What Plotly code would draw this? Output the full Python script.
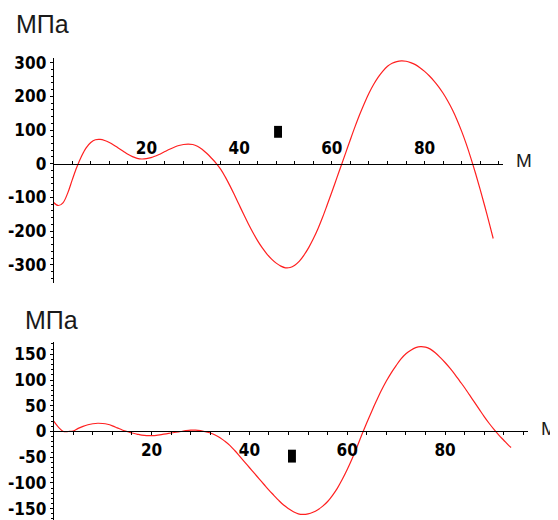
import plotly.graph_objects as go

# ---- data ----
top_x = [0, 1, 2, 3, 4, 5, 6, 7, 8, 9, 10, 11, 12, 13, 14, 15, 16, 17, 18, 19, 20,
         21, 22, 23, 24, 25, 26, 27, 28, 29, 30, 31, 32, 33, 34, 35, 36, 37, 38, 39, 40,
         41, 42, 43, 44, 45, 46, 47, 48, 49, 50, 51, 52, 53, 54, 55, 56, 57, 58, 59, 60,
         61, 62, 63, 64, 65, 66, 67, 68, 69, 70, 71, 72, 73, 74, 75, 76, 77, 78, 79, 80,
         81, 82, 83, 84, 85, 86, 87, 88, 89, 90, 91, 92, 93, 94, 94.8]
top_y = [-115, -124, -116, -88, -48, -10, 22, 47, 63, 71, 72, 69, 63, 55, 46, 37, 28, 21, 16, 14, 15,
         18, 23, 29, 36, 43, 49, 54, 57, 58, 57, 52, 43, 31, 17, 2, -16, -39, -65, -93, -122,
         -151, -179, -205, -229, -250, -268, -283, -295, -304, -309, -308, -301, -289, -271, -249, -223, -193, -159, -122, -84,
         -45, -6, 33, 72, 110, 146, 179, 209, 235, 257, 275, 289, 298, 303, 305, 304, 300, 294, 285, 274,
         261, 246, 229, 209, 186, 160, 130, 96, 58, 16, -29, -77, -127, -179, -222]

bot_x = [0, 1, 2, 3, 4, 5, 6, 7, 8, 9, 10, 11, 12, 13, 14, 15, 16, 17, 18, 19, 20,
         21, 22, 23, 24, 25, 26, 27, 28, 29, 30, 31, 32, 33, 34, 35, 36, 37, 38, 39, 40,
         41, 42, 43, 44, 45, 46, 47, 48, 49, 50, 51, 52, 53, 54, 55, 56, 57, 58, 59, 60,
         61, 62, 63, 64, 65, 66, 67, 68, 69, 70, 71, 72, 73, 74, 75, 76, 77, 78, 79, 80,
         81, 82, 83, 84, 85, 86, 87, 88, 89, 90, 91, 92, 93, 93.5]
bot_y = [20, 8, 0, 0, 1, 6, 10, 13, 15, 16, 15.5, 14, 11, 7, 3, 0, -3, -5, -7, -8, -8,
         -7.5, -6, -4.5, -3, -1.5, 0, 1.5, 2.5, 2.5, 1.5, -0.5, -3, -7, -12, -19, -27, -37, -48, -59, -70,
         -81, -92, -103, -114, -124, -134, -143, -150, -156, -160, -161, -160, -157, -152, -145, -136, -124, -110, -93, -74,
         -53, -30, -6, 17, 39, 60, 80, 98, 114, 128, 141, 151, 158, 163, 165, 164, 160, 153, 144, 134,
         123, 111, 98, 85, 71, 57, 43, 29, 16, 4, -7, -17, -27, -31]

x_ticks = [20, 40, 60, 80]
top_yticks = [-300, -200, -100, 0, 100, 200, 300]
bot_yticks = [-150, -100, -50, 0, 50, 100, 150]
unit_y = "МПа"
unit_x = "М"

# page has an 8px body margin: build the figure so it lands on the page as in the reference
OFF = 8
W, H = 558 - OFF, 520 - OFF


def px(x):
    return (x - OFF) / W


def py(y):
    return 1 - (y - OFF) / H


top_x_range = [0, 97]
top_y_range = [-355, 315]
bot_x_range = [0, 97]
bot_y_range = [-172, 173]

top_dom_x = [px(50), px(503)]
bot_dom_x = [px(50), px(528)]
top_dom_y = [py(281), py(53)]
bot_dom_y = [0, py(340.7)]


def zero_pos(dom, rng):
    return dom[0] + (0 - rng[0]) / (rng[1] - rng[0]) * (dom[1] - dom[0])


tick_font = dict(family="DejaVu Sans Condensed", size=17, color="black", weight="bold")


def lab(v):
    return str(v)


fig = go.Figure()
fig.add_trace(go.Scatter(x=top_x, y=top_y, mode="lines", xaxis="x", yaxis="y",
                         line=dict(color="#ff2020", width=1.2, shape="spline", smoothing=1),
                         showlegend=False, hoverinfo="skip"))
fig.add_trace(go.Scatter(x=bot_x, y=bot_y, mode="lines", xaxis="x2", yaxis="y2",
                         line=dict(color="#ff2020", width=1.2, shape="spline", smoothing=1),
                         showlegend=False, hoverinfo="skip"))

common_x = dict(showgrid=False, zeroline=False, showline=True, linecolor="black", linewidth=1,
                ticks="outside", ticklen=3, tickcolor="black", tickwidth=1,
                tickvals=x_ticks, ticktext=[lab(v) for v in x_ticks], tickfont=tick_font,
                minor=dict(dtick=4, tick0=0, ticks="outside", ticklen=3, tickcolor="black",
                           showgrid=False),
                fixedrange=True, anchor="free")
common_y = dict(showgrid=False, zeroline=False, showline=True, linecolor="black", linewidth=1,
                ticks="outside", ticklen=3, tickcolor="black", tickwidth=1, tickfont=tick_font,
                fixedrange=True)

fig.update_layout(
    width=W, height=H,
    margin=dict(l=0, r=0, t=0, b=0),
    paper_bgcolor="white", plot_bgcolor="white",
    xaxis=dict(common_x, domain=top_dom_x, range=top_x_range, side="top",
               position=zero_pos(top_dom_y, top_y_range)),
    yaxis=dict(common_y, domain=top_dom_y, range=top_y_range, anchor="x",
               tickvals=top_yticks, ticktext=[lab(v) for v in top_yticks],
               minor=dict(dtick=20, tick0=0, ticks="outside", ticklen=2, tickcolor="black",
                          showgrid=False)),
    xaxis2=dict(common_x, domain=bot_dom_x, range=bot_x_range, side="bottom",
                position=zero_pos(bot_dom_y, bot_y_range)),
    yaxis2=dict(common_y, domain=bot_dom_y, range=bot_y_range, anchor="x2",
                tickvals=bot_yticks, ticktext=[lab(v) for v in bot_yticks],
                minor=dict(dtick=10, tick0=0, ticks="outside", ticklen=2, tickcolor="black",
                           showgrid=False)),
)

title_font = dict(family="Liberation Sans, Arial, sans-serif", size=25, color="#1a1a1a")
unit_font = dict(family="Liberation Sans, Arial, sans-serif", size=19, color="#1a1a1a")

fig.add_annotation(text=unit_y, xref="paper", yref="paper", x=px(10), y=py(19),
                   xanchor="left", yanchor="middle", showarrow=False, font=title_font)
fig.add_annotation(text=unit_y, xref="paper", yref="paper", x=px(19), y=py(318),
                   xanchor="left", yanchor="middle", showarrow=False, font=title_font)
fig.add_annotation(text=unit_x, xref="paper", yref="paper", x=px(514), y=py(157),
                   xanchor="left", yanchor="middle", showarrow=False, font=unit_font)
fig.add_annotation(text=unit_x, xref="paper", yref="paper", x=px(539), y=py(428),
                   xanchor="left", yanchor="middle", showarrow=False, font=unit_font)

# small black glitch marks seen in the reference
fig.add_shape(type="rect", xref="paper", yref="paper", x0=px(272), x1=px(280),
              y0=py(134), y1=py(122), fillcolor="black", line=dict(width=0))
fig.add_shape(type="rect", xref="paper", yref="paper", x0=px(286), x1=px(294),
              y0=py(462), y1=py(449), fillcolor="black", line=dict(width=0))

fig.write_html("out.html")
